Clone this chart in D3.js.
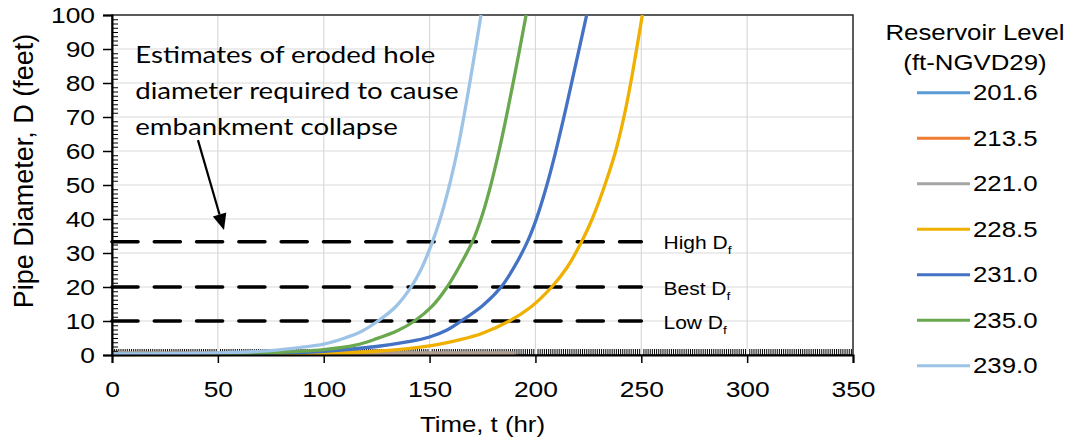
<!DOCTYPE html>
<html>
<head>
<meta charset="utf-8">
<script src="https://cdn.jsdelivr.net/npm/d3@7"></script>
<style>
  body { margin: 0; background: #fff; }
  svg { display: block; }
</style>
</head>
<body>
<svg></svg>
<script>
const size = {w: 1070, h: 441};
const plot = {l: 112, r: 853, t: 15, b: 355};
const stretch = 1.2; // the source picture is a bit wider than tall
const labelFont = '"Liberation Sans", Arial, sans-serif';
const noteFont = 'Lato, "Open Sans", sans-serif';

// reservoir levels and colours (legend order)
const levels = ['201.6', '213.5', '221.0', '228.5', '231.0', '235.0', '239.0'];
const colors = ['#5B9BD5', '#ED7D31', '#A5A5A5', '#EFB000', '#4472C4', '#6AA84F', '#9DC3E6'];

// pipe diameter D (ft) against time t (hr)
const t2016 = [0, 50, 100, 150, 190];
const d2016 = [0.5, 0.5, 0.5, 0.5, 0.5];
const t2135 = [0, 50, 100, 150, 190];
const d2135 = [0.5, 0.5, 0.5, 0.5, 0.5];
const t2210 = [0, 50, 100, 150, 191];
const d2210 = [0.6, 0.6, 0.6, 0.6, 0.6];
const t2285 = [0, 25, 50, 75, 100, 125, 150, 165, 175, 187.7, 198, 207.7, 215, 221.8, 226.8, 232.8, 237.9, 241.8, 245, 247.8, 250.5];
const d2285 = [0.1, 0.1, 0.15, 0.25, 0.5, 1.1, 2.7, 4.6, 6.4, 10, 14.2, 20, 25.8, 33.3, 40, 50, 60, 70, 80, 90, 100];
const t2310 = [0, 25, 50, 75, 100, 125, 140, 150, 158, 164.9, 175, 183.8, 190, 196.5, 200.5, 205, 209.4, 213.2, 216.8, 220.4, 224.2];
const d2310 = [0.15, 0.2, 0.3, 0.55, 1.1, 2.5, 3.9, 5.3, 7.3, 10, 14.5, 20, 25.9, 33.7, 40.1, 49.1, 59.4, 69.3, 79.2, 89.3, 100];
const t2350 = [0, 25, 50, 75, 100, 115, 125, 135, 142.9, 151, 158.3, 164.5, 170.5, 175, 179, 182.8, 186.3, 189.4, 192.3, 195.6];
const d2350 = [0.2, 0.25, 0.35, 0.7, 1.6, 2.9, 4.8, 7.2, 10, 14.2, 20, 26.5, 33.7, 41.4, 50.2, 60, 70.2, 79.8, 89.1, 100];
const t2390 = [0, 25, 50, 75, 88.7, 100, 110, 118, 125.6, 134, 141.4, 146, 151.3, 155, 159.8, 163.7, 166.6, 169, 171.6, 174.3];
const d2390 = [0.3, 0.4, 0.6, 1.3, 2.2, 3.2, 5, 7, 10, 14.2, 20.1, 25.2, 33.2, 40, 51, 61.9, 71.5, 80.1, 89.7, 100];

const seriesT = [t2016, t2135, t2210, t2285, t2310, t2350, t2390];
const seriesD = [d2016, d2135, d2210, d2285, d2310, d2350, d2390];

// failure diameter estimates
const dfNames = ['High', 'Best', 'Low'];
const dfValues = [33.3, 20, 10];
const dfEnd = 250;

// annotation
const noteLines = ['Estimates of eroded hole', 'diameter required to cause', 'embankment collapse'];
const noteAt = [11, 86];       // t, D of first baseline
const arrowFrom = [40.6, 63.2];
const arrowTo = [52.9, 36.8];

const xTicks = d3.range(0, 351, 50);
const yTicks = d3.range(0, 101, 10);

const svg = d3.select('svg').attr('width', size.w).attr('height', size.h);

const x = d3.scaleLinear().domain([0, 350]).range([plot.l, plot.r]);
const y = d3.scaleLinear().domain([0, 100]).range([plot.b, plot.t]);

// stretched text helper
function stext(g, px, py, str, fs, anchor, family) {
  return g.append('g').attr('transform', `translate(${px},${py}) scale(${stretch},1)`)
    .append('text')
    .attr('text-anchor', anchor || 'start')
    .attr('font-family', family || labelFont)
    .attr('font-size', fs)
    .attr('fill', '#000')
    .text(str);
}

// gridlines
const grid = svg.append('g');
grid.selectAll('.gx').data(xTicks.filter(d => d > 0 && d < 350)).join('line')
  .attr('x1', d => x(d)).attr('x2', d => x(d))
  .attr('y1', plot.t).attr('y2', plot.b)
  .attr('stroke', '#d9d9d9').attr('stroke-width', 1.2);
grid.selectAll('.gy').data(yTicks.filter(d => d > 0 && d < 100)).join('line')
  .attr('y1', d => y(d)).attr('y2', d => y(d))
  .attr('x1', plot.l).attr('x2', plot.r)
  .attr('stroke', '#d9d9d9').attr('stroke-width', 1.2);

// frame
svg.append('rect')
  .attr('x', plot.l).attr('y', plot.t)
  .attr('width', plot.r - plot.l).attr('height', plot.b - plot.t)
  .attr('fill', 'none').attr('stroke', '#262626').attr('stroke-width', 1.5);

// dashed failure lines
const dfG = svg.append('g');
dfValues.forEach((v, i) => {
  dfG.append('line')
    .attr('x1', x(0)).attr('x2', x(dfEnd))
    .attr('y1', y(v)).attr('y2', y(v))
    .attr('stroke', '#000').attr('stroke-width', 3.6)
    .attr('stroke-linecap', 'round')
    .attr('stroke-dasharray', '26,16.3');
  const t = dfG.append('g').attr('transform', `translate(${x(260.5)},${y(v) + 7.5}) scale(${stretch},1)`)
    .append('text').attr('font-family', labelFont).attr('font-size', 17.5);
  t.append('tspan').text(dfNames[i] + ' D');
  t.append('tspan').attr('font-size', 11.5).attr('dy', 5).text('f');
});

// x minor ticks (under the series)
const xMinor = svg.append('g').attr('transform', `translate(0,${plot.b})`)
  .call(d3.axisTop(x).tickValues(d3.range(1, 350, 1).filter(d => d % 50 !== 0)).tickSize(6).tickFormat(''));
xMinor.select('.domain').remove();
xMinor.selectAll('.tick line').attr('stroke', '#000').attr('stroke-width', 1);

// series
const line = d3.line().x(d => x(d[0])).y(d => y(d[1])).curve(d3.curveCatmullRom.alpha(0.5));
const seriesG = svg.append('g');
levels.forEach((lv, i) => {
  const pts = seriesT[i].map((t, j) => [t, seriesD[i][j]]);
  seriesG.append('path')
    .datum(pts)
    .attr('d', line)
    .attr('fill', 'none')
    .attr('stroke', colors[i])
    .attr('stroke-opacity', i < 3 ? 0.75 : 1)
    .attr('stroke-width', i < 3 ? 3.5 : 3.3);
});

// axes
const yAxis = svg.append('g').attr('transform', `translate(${plot.l},0)`)
  .call(d3.axisLeft(y).tickValues(yTicks).tickSize(9));
yAxis.select('.domain').attr('stroke', '#000').attr('stroke-width', 2);
yAxis.selectAll('.tick line').attr('stroke', '#000').attr('stroke-width', 1.5);
yAxis.selectAll('text')
  .attr('font-family', labelFont).attr('font-size', 22).attr('fill', '#000')
  .attr('x', -17 / stretch)
  .attr('transform', `scale(${stretch},1)`);

const yMinor = svg.append('g').attr('transform', `translate(${plot.l},0)`)
  .call(d3.axisRight(y).tickValues(d3.range(0, 100.01, 1.25).filter(d => d % 10 !== 0)).tickSize(6).tickFormat(''));
yMinor.select('.domain').remove();
yMinor.selectAll('.tick line').attr('stroke', '#000').attr('stroke-width', 1);

const xAxis = svg.append('g').attr('transform', `translate(0,${plot.b})`)
  .call(d3.axisBottom(x).tickValues(xTicks).tickSize(8));
xAxis.select('.domain').attr('stroke', '#000').attr('stroke-width', 2);
xAxis.selectAll('.tick line').attr('stroke', '#000').attr('stroke-width', 1.5);
xAxis.selectAll('text')
  .attr('font-family', labelFont).attr('font-size', 22).attr('fill', '#000')
  .attr('y', 42).attr('dy', 0)
  .attr('transform', `scale(${stretch},1)`);

// axis titles
stext(svg, (plot.l + plot.r) / 2, 432, 'Time, t (hr)', 21.5, 'middle');
svg.append('text')
  .attr('transform', `translate(33,${(plot.t + 327) / 2}) rotate(-90)`)
  .attr('text-anchor', 'middle')
  .attr('font-family', labelFont).attr('font-size', 27)
  .text('Pipe Diameter, D (feet)');

// annotation
noteLines.forEach((s, i) => {
  stext(svg, x(noteAt[0]), y(noteAt[1]) + i * 36, s, 23, 'start', noteFont);
});
const ax1 = x(arrowFrom[0]), ay1 = y(arrowFrom[1]);
const ax2 = x(arrowTo[0]), ay2 = y(arrowTo[1]);
const ang = Math.atan2(ay2 - ay1, ax2 - ax1);
const headL = 16, headW = 7;
const bx = ax2 - headL * Math.cos(ang), by = ay2 - headL * Math.sin(ang);
svg.append('line')
  .attr('x1', ax1).attr('y1', ay1)
  .attr('x2', bx).attr('y2', by)
  .attr('stroke', '#000').attr('stroke-width', 2.2);
svg.append('path')
  .attr('d', `M${ax2},${ay2}L${bx - headW * Math.sin(ang)},${by + headW * Math.cos(ang)}L${bx + headW * Math.sin(ang)},${by - headW * Math.cos(ang)}Z`)
  .attr('fill', '#000');

// legend
const leg = svg.append('g');
stext(leg, 975, 40, 'Reservoir Level', 21.5, 'middle');
stext(leg, 975, 70, '(ft-NGVD29)', 21.5, 'middle');
levels.forEach((lv, i) => {
  const cy = 92.7 + i * 45.5;
  leg.append('line')
    .attr('x1', 917).attr('x2', 970).attr('y1', cy).attr('y2', cy)
    .attr('stroke', colors[i]).attr('stroke-width', 3);
  stext(leg, 973, cy + 7.5, lv, 21.5, 'start');
});
</script>
</body>
</html>
